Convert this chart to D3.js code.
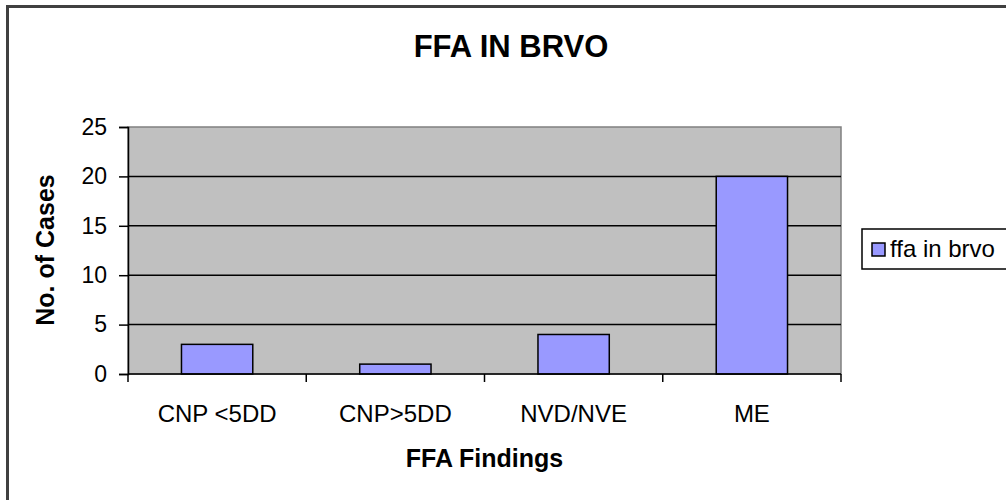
<!DOCTYPE html>
<html>
<head>
<meta charset="utf-8">
<script src="https://cdn.jsdelivr.net/npm/d3@7"></script>
<style>
  body { margin: 0; background: #fff; }
  text { font-family: "Liberation Sans", Arial, sans-serif; }
</style>
</head>
<body>
<div id="chart"></div>
<script>
// chart data
var categories = ["CNP <5DD", "CNP>5DD", "NVD/NVE", "ME"];
var values = [3, 1, 4, 20];
var yTicks = [0, 5, 10, 15, 20, 25];
var seriesName = "ffa in brvo";

var W = 1006, H = 500;
var margin = {top: 127, right: 165, bottom: 126, left: 128},
    width = W - margin.left - margin.right,
    height = H - margin.top - margin.bottom;

var svg = d3.select("#chart")
  .append("svg")
  .attr("width", W)
  .attr("height", H);

// outer frame
svg.append("rect")
  .attr("x", 7.5).attr("y", 6.5)
  .attr("width", W + 20).attr("height", H + 20)
  .style("fill", "#fff")
  .style("stroke", "#404040")
  .style("stroke-width", 3);

// title
svg.append("text")
  .attr("x", 511).attr("y", 57)
  .attr("text-anchor", "middle")
  .style("font-size", "31px")
  .style("font-weight", "bold")
  .text("FFA IN BRVO");

var g = svg.append("g")
  .attr("transform", "translate(" + margin.left + "," + margin.top + ")");

var x = d3.scaleBand()
  .domain(categories)
  .range([0, width])
  .paddingInner(0.6)
  .paddingOuter(0.3);

var y = d3.scaleLinear()
  .domain([0, 25])
  .range([height, 0]);

// plot area
g.append("rect")
  .attr("width", width).attr("height", height)
  .style("fill", "#c0c0c0")
  .style("stroke", "#808080")
  .style("stroke-width", 1.5);

// gridlines
g.selectAll(".grid")
  .data(yTicks.filter(function(d) { return d > 0 && d < 25; }))
  .enter().append("line")
  .attr("x1", 0).attr("x2", width)
  .attr("y1", function(d) { return y(d); })
  .attr("y2", function(d) { return y(d); })
  .style("stroke", "#000")
  .style("stroke-width", 1.5);

// bars
g.selectAll(".bar")
  .data(values)
  .enter().append("rect")
  .attr("x", function(d, i) { return x(categories[i]); })
  .attr("y", function(d) { return y(d); })
  .attr("width", x.bandwidth())
  .attr("height", function(d) { return height - y(d); })
  .style("fill", "#9999ff")
  .style("stroke", "#000")
  .style("stroke-width", 1.5);

// y axis
var yAxis = g.append("g")
  .call(d3.axisLeft(y).tickValues(yTicks).tickSize(9).tickPadding(12));
yAxis.select(".domain").style("stroke-width", 1.5);
yAxis.selectAll("line").style("stroke-width", 1.5);
yAxis.selectAll("text")
  .style("font-size", "23px")
  .style("font-family", "Liberation Sans, Arial, sans-serif");

// x axis: ticks at category boundaries
var xa = g.append("g").attr("transform", "translate(0," + height + ")");
xa.append("line")
  .attr("x1", 0).attr("x2", width)
  .style("stroke", "#000").style("stroke-width", 1.5);
var step = x.step();
xa.selectAll(".xtick")
  .data(d3.range(categories.length + 1))
  .enter().append("line")
  .attr("x1", function(i) { return i * step; })
  .attr("x2", function(i) { return i * step; })
  .attr("y1", 0).attr("y2", 8)
  .style("stroke", "#000").style("stroke-width", 1.5);
xa.selectAll(".xlabel")
  .data(categories)
  .enter().append("text")
  .attr("x", function(d) { return x(d) + x.bandwidth() / 2; })
  .attr("y", 48)
  .attr("text-anchor", "middle")
  .style("font-size", "24px")
  .text(function(d) { return d; });

// axis titles
svg.append("text")
  .attr("x", margin.left + width / 2).attr("y", 467)
  .attr("text-anchor", "middle")
  .style("font-size", "25px")
  .style("font-weight", "bold")
  .text("FFA Findings");

svg.append("text")
  .attr("transform", "translate(54,250) rotate(-90)")
  .attr("text-anchor", "middle")
  .style("font-size", "25px")
  .style("font-weight", "bold")
  .text("No. of Cases");

// legend
var lg = svg.append("g").attr("transform", "translate(862,229)");
lg.append("rect")
  .attr("width", 200).attr("height", 40)
  .style("fill", "#fff")
  .style("stroke", "#000")
  .style("stroke-width", 1.5);
lg.append("rect")
  .attr("x", 10).attr("y", 14)
  .attr("width", 13).attr("height", 13)
  .style("fill", "#9999ff")
  .style("stroke", "#000")
  .style("stroke-width", 1.5);
lg.append("text")
  .attr("x", 28).attr("y", 28)
  .style("font-size", "24px")
  .text(seriesName);
</script>
</body>
</html>
